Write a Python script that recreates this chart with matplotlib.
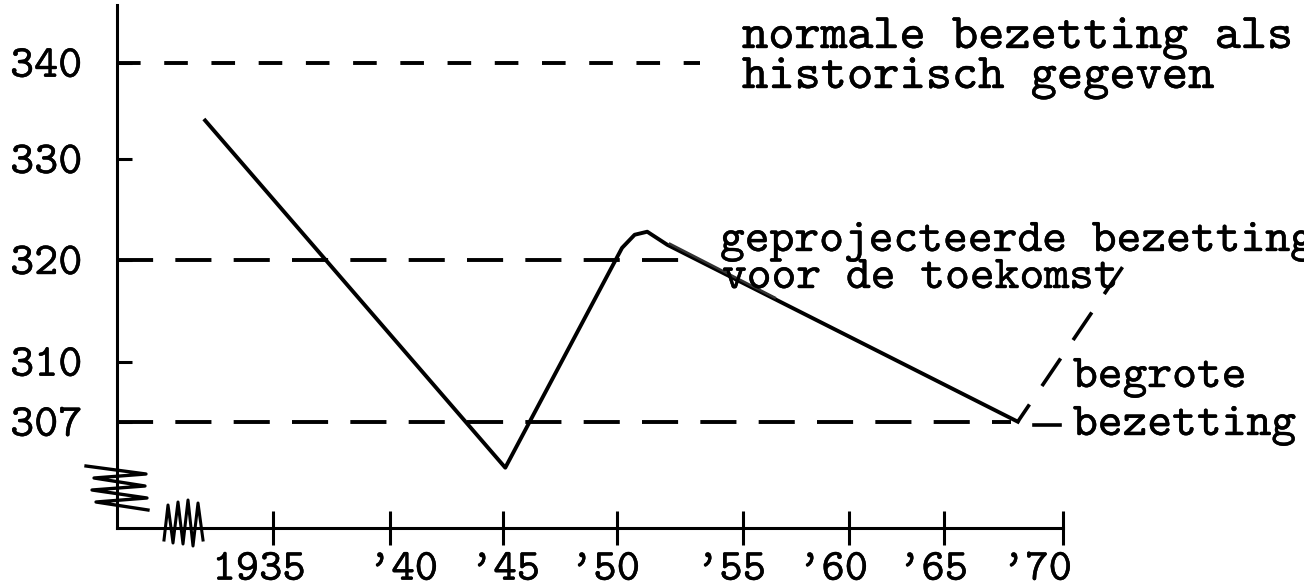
import os
import numpy as np
import matplotlib
import matplotlib.pyplot as plt
from matplotlib import font_manager
from matplotlib import patheffects
from matplotlib.lines import Line2D
from matplotlib.transforms import ScaledTranslation

# typewriter face with slab serifs that ships with matplotlib
tt_path = os.path.join(matplotlib.get_data_path(), 'fonts', 'ttf', 'cmtt10.ttf')
font_manager.fontManager.addfont(tt_path)
plt.rcParams['font.family'] = ['cmtt10', 'DejaVu Sans Mono']
plt.rcParams['lines.scale_dashes'] = False

W, H = 1304, 588

# tick labels of the hand drawn axes
year_ticks = [1935, 1940, 1945, 1950, 1955, 1960, 1965, 1970]
year_labels = ["1935", "'40", "'45", "'50", "'55", "'60", "'65", "'70"]
value_ticks = [307, 310, 320, 330, 340]

occ_years = [1932.1, 1945.1, 1950.2, 1950.7, 1951.2, 1952.0, 1968.1]
occ_values = [334.0, 302.4, 321.2, 322.5, 322.8, 321.5, 307.0]

# second pencil stroke of the projection near the top
proj_years = [1952.1, 1956.5]
proj_values = [321.6, 316.3]

# dashed pointer from the budget point up to the label
budget_years = [1968.1, 1972.5]
budget_values = [307.0, 319.3]

# reference levels: normal (340), 320 and budgeted (307)
level_values = [340, 320, 307]
level_end = [1953.3, 1953.3, 1967.8]

# the axes are drawn by hand, so the spacing is not even:
# piecewise linear scale through the pixel spots of the ticks
x_anchor = [1925] + year_ticks + [1980]
x_pix = [273 - 234] + [273, 390, 503, 617, 743, 849, 944, 1063] + [1063 + 238]
y_anchor = [290, 307, 310, 320, 330, 340, 350]
y_pix = [-591.7, -421.7, -361.7, -260, -159, -62.7, 33.6]


def fwd_x(v):
    return np.interp(v, x_anchor, x_pix)


def inv_x(p):
    return np.interp(p, x_pix, x_anchor)


def fwd_y(v):
    return np.interp(v, y_anchor, y_pix)


def inv_y(p):
    return np.interp(p, y_pix, y_anchor)


ink = [patheffects.withStroke(linewidth=0.3, foreground='black')]

fig = plt.figure(figsize=(W / 100, H / 100), dpi=100)
ax = fig.add_axes([117 / W, 1 - 528 / H, (1063 - 117) / W, (528 - 5) / H])
ax.set_xscale('function', functions=(fwd_x, inv_x))
ax.set_yscale('function', functions=(fwd_y, inv_y))
ax.set_xlim(float(inv_x(117)), 1970)
ax.set_ylim(float(inv_y(-528)), float(inv_y(-5)))

for s in ['top', 'right']:
    ax.spines[s].set_visible(False)
for s in ['left', 'bottom']:
    ax.spines[s].set_linewidth(2.2)

ax.set_xticks(year_ticks, year_labels)
ax.set_yticks(value_ticks, [str(v) for v in value_ticks])
ax.tick_params(axis='x', direction='inout', length=24, width=2.2, pad=5, labelsize=32)
ax.tick_params(axis='y', direction='in', length=11, width=2.2, pad=25, labelsize=33)

# typed labels do not sit exactly under the hand drawn ticks
label_nudge = [-14, 13, 2, -12, -12, -16, -11, -26]
for lab, dx in zip(ax.get_xticklabels(), label_nudge):
    lab.set_transform(lab.get_transform() + ScaledTranslation(dx / 100, 0, fig.dpi_scale_trans))
    lab.set_path_effects(ink)
for lab in ax.get_yticklabels():
    lab.set_path_effects(ink)

# dashed reference levels
dash_style = [(17, 17), (26, 16), (26, 16)]
for val, end, ds in zip(level_values, level_end, dash_style):
    ax.plot([ax.get_xlim()[0], end], [val, val], color='black', lw=2.8,
            dashes=ds, solid_capstyle='butt', dash_capstyle='butt')

ax.plot(occ_years, occ_values, color='black', lw=2.8, solid_joinstyle='round')
ax.plot(proj_years, proj_values, color='#333333', lw=1.8)
ax.plot(budget_years, budget_values, color='black', lw=2.6,
        linestyle=(9, (24, 16)), clip_on=False)


def px(xs, ys):
    return [x / W for x in xs], [1 - y / H for y in ys]


# axis breaks
bx, by = px([86, 146, 94, 145, 92, 147, 96, 148], [466, 474, 478, 486, 490, 498, 502, 510])
fig.add_artist(Line2D(bx, by, color='black', lw=2.4, transform=fig.transFigure))
bx, by = px([164, 168, 173, 178, 183, 188, 193, 198, 203],
            [540, 505, 543, 502, 544, 500, 546, 503, 540])
fig.add_artist(Line2D(bx, by, color='black', lw=2.2, transform=fig.transFigure))
# short dash in front of "bezetting"
bx, by = px([1034, 1060], [425, 425])
fig.add_artist(Line2D(bx, by, color='black', lw=2.6, transform=fig.transFigure))

txt = dict(va='baseline', ha='left', color='black', path_effects=ink)
fig.text(742 / W, 1 - 48 / H, 'normale bezetting als', fontsize=36, **txt)
fig.text(742 / W, 1 - 88 / H, 'historisch gegeven', fontsize=36, **txt)
fig.text(720 / W, 1 - 251 / H, 'geprojecteerde bezetting', fontsize=34, **txt)
fig.text(722 / W, 1 - 288 / H, 'voor de toekomst', fontsize=34, **txt)
fig.text(1073 / W, 1 - 387 / H, 'begrote', fontsize=34, **txt)
fig.text(1073 / W, 1 - 435 / H, 'bezetting', fontsize=34, **txt)

fig.savefig('out.png', dpi=100)
